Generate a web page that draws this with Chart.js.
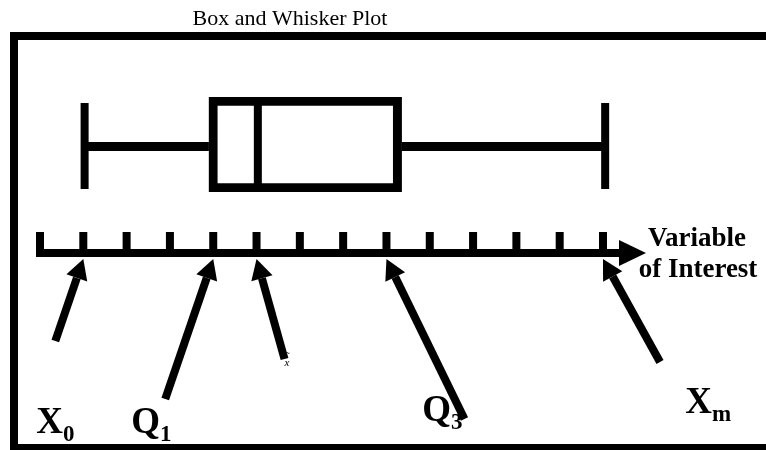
<!DOCTYPE html>
<html>
<head>
<meta charset="utf-8">
<script src="https://cdn.jsdelivr.net/npm/chart.js@4.4.0/dist/chart.umd.min.js"></script>
<style>
  body { margin: 0; background: #fff; }
</style>
</head>
<body>
<canvas id="myChart" width="766" height="450"></canvas>
<script>
// valores del diagrama
let nombresCaja = ['minimo', 'Q1', 'mediana', 'Q3', 'maximo']
let valoresCaja = [1.03, 3.9, 5.03, 8.35, 13.05]
let marcasEje = [0, 1, 2, 3, 4, 5, 6, 7, 8, 9, 10, 11, 12, 13]
// etiquetas y el valor al que apunta cada flecha
let etiquetasFlecha = ['X', 'Q', 'x', 'Q', 'X']
let subindicesFlecha = ['0', '1', '', '3', 'm']
let valoresFlecha = [1, 4, 5, 8, 13]
let tituloGrafico = 'Box and Whisker Plot'
let tituloEje = ['Variable', 'of Interest']

const serif = '"Liberation Serif", "Times New Roman", serif'

// desplazamiento de la cola de cada flecha respecto a su punta (px)
const colas = [[-28, 82], [-48, 140], [28, 100], [78, 160], [57, 103]]
// union letra/subindice y linea base de cada etiqueta
const posEtiquetas = [[63, 433], [160, 433], [287, 366], [451, 421], [712, 413]]

function flecha(ctx, x0, y0, x1, y1) {
    let ang = Math.atan2(y1 - y0, x1 - x0)
    let largo = 20, ancho = 11
    let bx = x1 - largo * Math.cos(ang), by = y1 - largo * Math.sin(ang)
    ctx.lineWidth = 8
    ctx.beginPath()
    ctx.moveTo(x0, y0)
    ctx.lineTo(bx, by)
    ctx.stroke()
    ctx.beginPath()
    ctx.moveTo(x1, y1)
    ctx.lineTo(bx + ancho * Math.sin(ang), by - ancho * Math.cos(ang))
    ctx.lineTo(bx - ancho * Math.sin(ang), by + ancho * Math.cos(ang))
    ctx.closePath()
    ctx.fill()
}

const dibujoCaja = {
    id: 'dibujoCaja',
    beforeDatasetsDraw(chart) {
        let ctx = chart.ctx
        let x = chart.scales.x
        let meta = chart.getDatasetMeta(0).data[0]
        let yc = meta.y + 2
        ctx.save()
        ctx.fillStyle = '#000'
        ctx.strokeStyle = '#000'
        // marco
        ctx.lineWidth = 8
        ctx.strokeRect(14, 36, 780, 412)
        // titulo
        ctx.font = '22px ' + serif
        ctx.textAlign = 'center'
        ctx.textBaseline = 'alphabetic'
        ctx.fillText(tituloGrafico, 290, 25)
        // bigotes
        ctx.lineWidth = 9
        ctx.beginPath()
        ctx.moveTo(x.getPixelForValue(valoresCaja[0]), yc)
        ctx.lineTo(x.getPixelForValue(valoresCaja[1]), yc)
        ctx.moveTo(x.getPixelForValue(valoresCaja[3]), yc)
        ctx.lineTo(x.getPixelForValue(valoresCaja[4]), yc)
        ctx.stroke()
        ctx.lineWidth = 8
        ctx.beginPath()
        for (let v of [valoresCaja[0], valoresCaja[4]]) {
            ctx.moveTo(x.getPixelForValue(v), 103)
            ctx.lineTo(x.getPixelForValue(v), 189)
        }
        ctx.stroke()
        ctx.restore()
    },
    afterDatasetsDraw(chart) {
        let ctx = chart.ctx
        let x = chart.scales.x
        let meta = chart.getDatasetMeta(0).data[0]
        let alto = meta.height
        ctx.save()
        ctx.fillStyle = '#000'
        ctx.strokeStyle = '#000'
        // mediana
        ctx.lineWidth = 8
        ctx.beginPath()
        ctx.moveTo(x.getPixelForValue(valoresCaja[2]), meta.y - alto / 2)
        ctx.lineTo(x.getPixelForValue(valoresCaja[2]), meta.y + alto / 2)
        ctx.stroke()
        // eje con marcas
        let yEje = 253
        let xIni = x.getPixelForValue(marcasEje[0])
        let xFin = x.getPixelForValue(marcasEje[marcasEje.length - 1])
        ctx.lineWidth = 8
        ctx.beginPath()
        ctx.moveTo(xIni - 4, yEje)
        ctx.lineTo(xFin + 20, yEje)
        ctx.stroke()
        ctx.beginPath()
        for (let m of marcasEje) {
            ctx.moveTo(x.getPixelForValue(m), 232)
            ctx.lineTo(x.getPixelForValue(m), yEje)
        }
        ctx.stroke()
        ctx.beginPath()
        ctx.moveTo(xFin + 43, yEje)
        ctx.lineTo(xFin + 16, yEje - 13)
        ctx.lineTo(xFin + 16, yEje + 13)
        ctx.closePath()
        ctx.fill()
        // titulo del eje
        ctx.font = 'bold 27px ' + serif
        ctx.textAlign = 'center'
        ctx.fillText(tituloEje[0], 697, 246)
        ctx.fillText(tituloEje[1], 698, 277)
        // flechas y etiquetas
        for (let i = 0; i < valoresFlecha.length; i++) {
            let px = x.getPixelForValue(valoresFlecha[i])
            let py = 259
            flecha(ctx, px + colas[i][0], py + colas[i][1], px, py)
            let [lx, ly] = posEtiquetas[i]
            if (subindicesFlecha[i] === '') {
                // x con tilde (mediana)
                ctx.font = 'italic 11px ' + serif
                ctx.textAlign = 'center'
                ctx.fillText(etiquetasFlecha[i], lx, ly)
                ctx.font = '11px ' + serif
                ctx.fillText('\u02DC', lx + 1, ly - 6)
            } else {
                ctx.font = 'bold 37px ' + serif
                ctx.textAlign = 'right'
                ctx.fillText(etiquetasFlecha[i], lx, ly)
                ctx.font = 'bold 23px ' + serif
                ctx.textAlign = 'left'
                ctx.fillText(subindicesFlecha[i], lx, ly + 8)
            }
        }
        ctx.restore()
    }
}

function generarGrafico() {
    let grafico = document.getElementById('myChart')
    new Chart(grafico, {
        type: 'bar',
        data: {
            labels: ['caja'],
            datasets: [{
                label: 'caja',
                data: [[valoresCaja[1], valoresCaja[3]]],
                backgroundColor: '#fff',
                borderColor: '#000',
                borderWidth: 9,
                borderSkipped: false,
                barThickness: 95
            }]
        },
        options: {
            indexAxis: 'y',
            responsive: false,
            animation: false,
            layout: { padding: { left: 40, right: 163, top: 97, bottom: 258 } },
            scales: {
                x: { type: 'linear', min: 0, max: 13, display: false },
                y: { display: false }
            },
            plugins: {
                legend: { display: false },
                tooltip: { enabled: false },
                title: { display: false }
            }
        },
        plugins: [dibujoCaja]
    })
}
generarGrafico()
</script>
</body>
</html>
